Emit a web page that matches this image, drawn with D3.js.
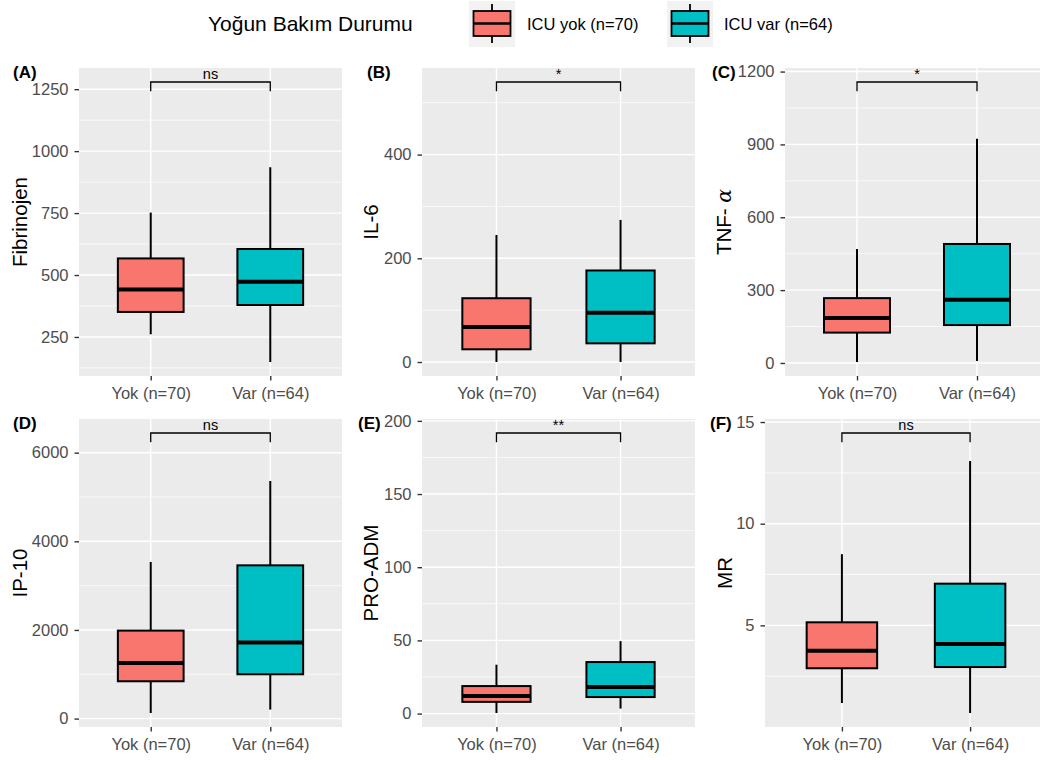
<!DOCTYPE html>
<html>
<head>
<meta charset="utf-8">
<script src="https://cdn.jsdelivr.net/npm/d3@7/dist/d3.min.js"></script>
<style>
  html, body { margin: 0; padding: 0; background: #ffffff; }
  svg { display: block; font-family: "Liberation Sans", Arial, sans-serif; }
</style>
</head>
<body>
<svg id="chart" width="1040" height="760"></svg>
<script>
// ---------- data ----------
const categories = ["Yok (n=70)", "Var (n=64)"];
const groupNames = ["ICU yok (n=70)", "ICU var (n=64)"];
const legendTitle = "Yoğun Bakım Durumu";
const groupColors = ["#F8766D", "#00BFC4"];

const panelTags = ["(A)", "(B)", "(C)", "(D)", "(E)", "(F)"];
const yTitles = ["Fibrinojen", "IL-6", "TNF-α", "IP-10", "PRO-ADM", "MR"];

// box stats: [lower whisker, Q1, median, Q3, upper whisker]
const yokStats = [
  [261, 351, 442, 567, 752],
  [0, 24.5, 67.5, 123, 245],
  [4, 125, 185, 267, 469],
  [126, 842, 1255, 1985, 3535],
  [0.4, 8, 12, 18.8, 33.4],
  [1.18, 2.89, 3.75, 5.15, 8.5]
];
const varStats = [
  [149, 379, 473, 605, 935],
  [0, 36, 95, 176.5, 274],
  [8, 156, 260, 490, 923],
  [203, 1000, 1716, 3458, 5361],
  [3.4, 11.3, 18.2, 35.2, 49.5],
  [0.69, 2.95, 4.08, 7.05, 13.08]
];

const bracketValues = [1279, 540, 1157, 6444, 191.7, 14.46];
const sigLabels = ["ns", "*", "*", "ns", "**", "ns"];

const yTickValues = [
  [250, 500, 750, 1000, 1250],
  [0, 200, 400],
  [0, 300, 600, 900, 1200],
  [0, 2000, 4000, 6000],
  [0, 50, 100, 150, 200],
  [5, 10, 15]
];

// ---------- layout ----------
const panelBoxes = [
  {x0: 79,  x1: 342,  y0: 68,  y1: 376, tagX: 13,  titleX: 19.5},
  {x0: 422, x1: 695,  y0: 68,  y1: 376, tagX: 367, titleX: 370.5},
  {x0: 785, x1: 1049, y0: 68,  y1: 376, tagX: 712, titleX: 724},
  {x0: 79,  x1: 342,  y0: 419, y1: 727, tagX: 13,  titleX: 19.5},
  {x0: 422, x1: 695,  y0: 419, y1: 727, tagX: 358, titleX: 371},
  {x0: 765, x1: 1047, y0: 419, y1: 727, tagX: 710, titleX: 724.5}
];

const svg = d3.select("#chart");
const TICK_FONT = 16.5, TITLE_FONT = 20.5;
const TICK_COLOR = "#4D4D4D";

panelBoxes.forEach((pb, i) => {
  const stats = [yokStats[i], varStats[i]];
  const lo = d3.min(stats, s => s[0]);
  const hi = bracketValues[i];
  const pad = (hi - lo) * 0.05;

  const y = d3.scaleLinear().domain([lo - pad, hi + pad]).range([pb.y1, pb.y0]);
  const x = d3.scalePoint().domain(categories).range([pb.x0, pb.x1]).padding(0.6);
  const step = x.step();
  const boxW = step * 0.55;

  const g = svg.append("g");

  // panel background
  g.append("rect")
    .attr("x", pb.x0).attr("y", pb.y0)
    .attr("width", pb.x1 - pb.x0).attr("height", pb.y1 - pb.y0)
    .attr("fill", "#EBEBEB");

  // minor gridlines (midpoints of major ticks)
  const tv = yTickValues[i];
  const d = tv[1] - tv[0];
  const minors = [];
  for (let v = tv[0] - d / 2; v <= tv[tv.length - 1] + d; v += d) minors.push(v);
  const dom = y.domain();
  g.selectAll(".minor").data(minors.filter(v => v >= dom[0] && v <= dom[1]))
    .enter().append("line")
    .attr("x1", pb.x0).attr("x2", pb.x1)
    .attr("y1", v => y(v)).attr("y2", v => y(v))
    .attr("stroke", "#FFFFFF").attr("stroke-width", 0.7);

  // major gridlines
  g.selectAll(".major").data(tv).enter().append("line")
    .attr("x1", pb.x0).attr("x2", pb.x1)
    .attr("y1", v => y(v)).attr("y2", v => y(v))
    .attr("stroke", "#FFFFFF").attr("stroke-width", 1.4);
  g.selectAll(".vmajor").data(categories).enter().append("line")
    .attr("x1", c => x(c)).attr("x2", c => x(c))
    .attr("y1", pb.y0).attr("y2", pb.y1)
    .attr("stroke", "#FFFFFF").attr("stroke-width", 1.4);

  // boxplots
  categories.forEach((c, k) => {
    const s = stats[k];
    const cx = x(c);
    const bg = g.append("g");
    bg.append("line").attr("x1", cx).attr("x2", cx)
      .attr("y1", y(s[3])).attr("y2", y(s[4]))
      .attr("stroke", "#000").attr("stroke-width", 2);
    bg.append("line").attr("x1", cx).attr("x2", cx)
      .attr("y1", y(s[0])).attr("y2", y(s[1]))
      .attr("stroke", "#000").attr("stroke-width", 2);
    bg.append("rect")
      .attr("x", cx - boxW / 2).attr("width", boxW)
      .attr("y", y(s[3])).attr("height", y(s[1]) - y(s[3]))
      .attr("fill", groupColors[k]).attr("stroke", "#000").attr("stroke-width", 2);
    bg.append("line")
      .attr("x1", cx - boxW / 2).attr("x2", cx + boxW / 2)
      .attr("y1", y(s[2])).attr("y2", y(s[2]))
      .attr("stroke", "#000").attr("stroke-width", 4);
  });

  // significance bracket
  const tip = 0.03 * (pb.y1 - pb.y0);
  const by = y(bracketValues[i]);
  const xa = x(categories[0]), xb = x(categories[1]);
  g.append("path")
    .attr("d", `M${xa},${by + tip}V${by}H${xb}V${by + tip}`)
    .attr("fill", "none").attr("stroke", "#000").attr("stroke-width", 1.3);
  g.append("text")
    .attr("x", (xa + xb) / 2).attr("y", by - 3)
    .attr("text-anchor", "middle")
    .attr("font-size", 14.5).attr("fill", "#000")
    .text(sigLabels[i]);

  // y axis
  const ya = g.append("g")
    .attr("transform", `translate(${pb.x0},0)`)
    .call(d3.axisLeft(y).tickValues(tv).tickSize(4.5).tickPadding(6).tickFormat(d3.format("d")));
  ya.select(".domain").remove();
  ya.selectAll(".tick line").attr("stroke", "#333333").attr("stroke-width", 1.4);
  ya.selectAll(".tick text").attr("fill", TICK_COLOR).attr("font-size", TICK_FONT)
    .attr("font-family", "Liberation Sans, Arial, sans-serif");

  // x axis
  const xa2 = g.append("g")
    .attr("transform", `translate(0,${pb.y1})`)
    .call(d3.axisBottom(x).tickSize(4.5).tickPadding(6.5));
  xa2.select(".domain").remove();
  xa2.selectAll(".tick line").attr("stroke", "#333333").attr("stroke-width", 1.4);
  xa2.selectAll(".tick text").attr("fill", TICK_COLOR).attr("font-size", TICK_FONT)
    .attr("font-family", "Liberation Sans, Arial, sans-serif");

  // y title
  const cy = (pb.y0 + pb.y1) / 2;
  const yt = g.append("text")
    .attr("transform", `translate(${pb.titleX},${cy}) rotate(-90)`)
    .attr("text-anchor", "middle").attr("dy", "0.36em")
    .attr("font-size", TITLE_FONT).attr("fill", "#000");
  const title = yTitles[i];
  if (title.endsWith("α")) {
    yt.append("tspan").text(title.slice(0, -1) + " ");
    yt.append("tspan").attr("font-style", "italic").attr("font-family", "DejaVu Serif, serif").text("α");
  } else {
    yt.text(title);
  }

  // tag
  g.append("text")
    .attr("x", pb.tagX).attr("y", pb.y0 + 10)
    .attr("font-size", 17).attr("font-weight", "bold").attr("fill", "#000")
    .text(panelTags[i]);
});

// ---------- legend ----------
const leg = svg.append("g");
leg.append("text")
  .attr("x", 208).attr("y", 30.5)
  .attr("font-size", 21).attr("fill", "#000")
  .text(legendTitle);

const keyX = [469, 667];
const labelX = [527, 724];
groupNames.forEach((name, k) => {
  const kx = keyX[k];
  leg.append("rect").attr("x", kx).attr("y", 1).attr("width", 46).attr("height", 46)
    .attr("fill", "#F2F2F2");
  const cx = kx + 23;
  leg.append("line").attr("x1", cx).attr("x2", cx).attr("y1", 4).attr("y2", 11)
    .attr("stroke", "#000").attr("stroke-width", 1.8);
  leg.append("line").attr("x1", cx).attr("x2", cx).attr("y1", 36).attr("y2", 43)
    .attr("stroke", "#000").attr("stroke-width", 1.8);
  leg.append("rect").attr("x", kx + 4.5).attr("y", 11).attr("width", 37).attr("height", 25)
    .attr("fill", groupColors[k]).attr("stroke", "#000").attr("stroke-width", 1.8);
  leg.append("line").attr("x1", kx + 4.5).attr("x2", kx + 41.5).attr("y1", 23.5).attr("y2", 23.5)
    .attr("stroke", "#000").attr("stroke-width", 2.5);
  leg.append("text").attr("x", labelX[k]).attr("y", 30)
    .attr("font-size", 16.5).attr("fill", "#000")
    .text(name);
});
</script>
</body>
</html>
